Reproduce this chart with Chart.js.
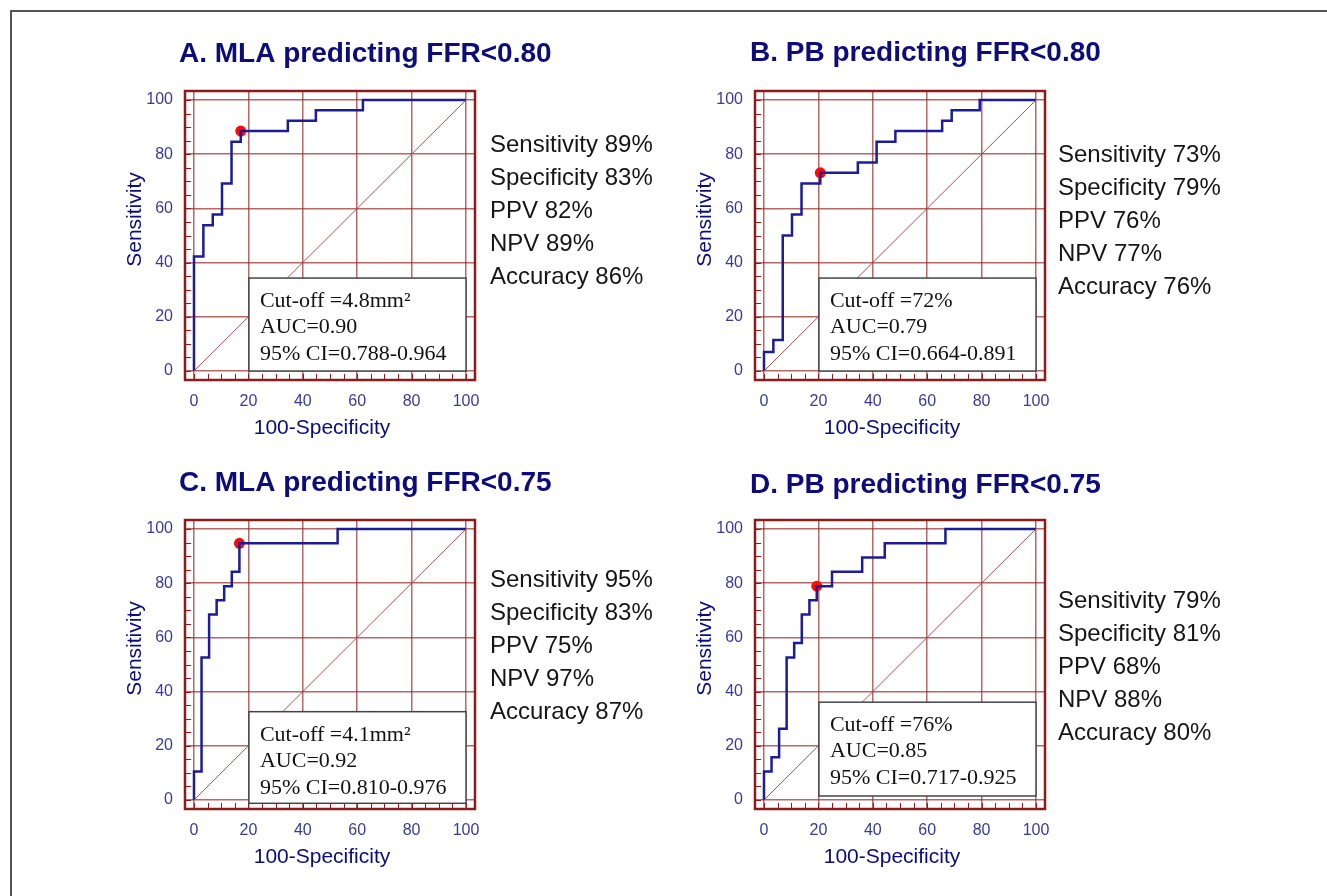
<!DOCTYPE html>
<html>
<head>
<meta charset="utf-8">
<script src="https://cdn.jsdelivr.net/npm/chart.js@4.4.0/dist/chart.umd.min.js"></script>
<style>
    body { margin: 0; background: #fff; width: 1327px; height: 896px; overflow: hidden; position: relative; }
    #outer { position: absolute; left: 10px; top: 10px; width: 1330px; height: 900px; border-left: 2px solid #555; border-top: 2px solid #555; }
    canvas { position: absolute; }
</style>
</head>
<body>
<div id="outer"></div>
<canvas id="chartA" width="700" height="440" style="left:0px;top:0px"></canvas>
<canvas id="chartB" width="700" height="440" style="left:570px;top:0px"></canvas>
<canvas id="chartC" width="700" height="440" style="left:0px;top:429px"></canvas>
<canvas id="chartD" width="700" height="440" style="left:570px;top:429px"></canvas>
<script>
// axis ticks
const tickValues = [0, 20, 40, 60, 80, 100];
const xTitle = '100-Specificity';
const yTitle = 'Sensitivity';

// panel titles
const titleA = 'A. MLA predicting FFR<0.80';
const titleB = 'B. PB predicting FFR<0.80';
const titleC = 'C. MLA predicting FFR<0.75';
const titleD = 'D. PB predicting FFR<0.75';

// ROC steps: at each 100-specificity value the curve rises to the sensitivity value
const rocA_fpr = [0, 3.45, 6.9, 10.3, 13.8, 17.2, 34.5, 44.8, 62.1];
const rocA_tpr = [42.3, 53.8, 57.7, 69.2, 84.6, 88.5, 92.3, 96.2, 100];
const rocB_fpr = [0, 3.45, 6.9, 10.3, 13.8, 20.7, 34.5, 41.4, 48.3, 65.5, 69.0, 79.3];
const rocB_tpr = [7.0, 11.5, 50.0, 57.7, 69.2, 73.1, 76.9, 84.6, 88.5, 92.3, 96.2, 100];
const rocC_fpr = [0, 2.78, 5.56, 8.33, 11.1, 13.9, 16.7, 52.8];
const rocC_tpr = [10.5, 52.6, 68.4, 73.7, 78.9, 84.2, 94.7, 100];
const rocD_fpr = [0, 2.78, 5.56, 8.33, 11.1, 13.9, 16.7, 19.4, 25.0, 36.1, 44.4, 66.7];
const rocD_tpr = [10.5, 15.8, 26.3, 52.6, 57.9, 68.4, 73.7, 78.9, 84.2, 89.5, 94.7, 100];

// optimal cut-off points [100-specificity, sensitivity]
const cutA = [17.2, 88.5];
const cutB = [20.7, 73.1];
const cutC = [16.7, 94.7];
const cutD = [19.4, 78.9];

// diagnostic performance
const statsA = ['Sensitivity 89%', 'Specificity 83%', 'PPV 82%', 'NPV 89%', 'Accuracy 86%'];
const statsB = ['Sensitivity 73%', 'Specificity 79%', 'PPV 76%', 'NPV 77%', 'Accuracy 76%'];
const statsC = ['Sensitivity 95%', 'Specificity 83%', 'PPV 75%', 'NPV 97%', 'Accuracy 87%'];
const statsD = ['Sensitivity 79%', 'Specificity 81%', 'PPV 68%', 'NPV 88%', 'Accuracy 80%'];

// boxed text
const boxA = ['Cut-off =4.8mm\u00B2', 'AUC=0.90', '95% CI=0.788-0.964'];
const boxB = ['Cut-off =72%', 'AUC=0.79', '95% CI=0.664-0.891'];
const boxC = ['Cut-off =4.1mm\u00B2', 'AUC=0.92', '95% CI=0.810-0.976'];
const boxD = ['Cut-off =76%', 'AUC=0.85', '95% CI=0.717-0.925'];

const navy = '#0c0c7a';
const tickBlue = '#3a3a96';
const frameRed = '#8e1b1b';

function staircase(fpr, tpr) {
    var pts = [{x: 0, y: 0}];
    for (var i = 0; i < fpr.length; i++) {
        var last = pts[pts.length - 1];
        pts.push({x: fpr[i], y: last.y});
        pts.push({x: fpr[i], y: tpr[i]});
    }
    pts.push({x: 100, y: 100});
    return pts;
}

// draws frame, minor ticks, titles, stats and the result box
const panelPlugin = {
    id: 'panelText',
    beforeDatasetsDraw(chart) {
        const ctx = chart.ctx, a = chart.chartArea;
        const xs = chart.scales.x, ys = chart.scales.y;
        ctx.save();
        ctx.strokeStyle = frameRed;
        ctx.lineWidth = 1;
        for (var v = 0; v <= 100; v += 5) {
            var py = Math.round(ys.getPixelForValue(v)) + 0.5;
            ctx.beginPath(); ctx.moveTo(a.left, py); ctx.lineTo(a.left + 6, py); ctx.stroke();
            var px = Math.round(xs.getPixelForValue(v)) + 0.5;
            ctx.beginPath(); ctx.moveTo(px, a.bottom); ctx.lineTo(px, a.bottom - 6); ctx.stroke();
        }
        ctx.lineWidth = 2.5;
        ctx.strokeRect(a.left, a.top, a.right - a.left, a.bottom - a.top);
        ctx.restore();
    },
    afterDatasetsDraw(chart, args, o) {
        const ctx = chart.ctx, a = chart.chartArea;
        const xs = chart.scales.x, ys = chart.scales.y;
        ctx.save();
        // result box
        var bl = xs.getPixelForValue(o.box[0]), br = xs.getPixelForValue(o.box[1]);
        var bb = ys.getPixelForValue(o.box[2]), bt = ys.getPixelForValue(o.box[3]);
        ctx.fillStyle = '#fff';
        ctx.fillRect(bl, bt, br - bl, bb - bt);
        ctx.strokeStyle = '#444';
        ctx.lineWidth = 1.5;
        ctx.strokeRect(bl, bt, br - bl, bb - bt);
        ctx.fillStyle = '#111';
        ctx.font = '22px "Liberation Serif", "Times New Roman", serif';
        ctx.textBaseline = 'alphabetic';
        ctx.textAlign = 'left';
        var offs = [29, 55, 82];
        o.boxText.forEach(function (t, i) { ctx.fillText(t, bl + 11, bt + offs[i]); });

        // title
        ctx.fillStyle = navy;
        ctx.font = 'bold 28px "Liberation Sans", Arial, sans-serif';
        ctx.textBaseline = 'middle';
        ctx.fillText(o.title, o.titleX, o.titleY);

        // stats
        ctx.fillStyle = '#151515';
        ctx.font = '24px "Liberation Sans", Arial, sans-serif';
        o.stats.forEach(function (t, i) { ctx.fillText(t, o.statsX, o.statsY + i * 33); });

        // axis titles
        ctx.fillStyle = navy;
        ctx.font = '21px "Liberation Sans", Arial, sans-serif';
        ctx.textAlign = 'center';
        ctx.fillText(xTitle, (a.left + a.right) / 2 - 8, a.bottom + 48);
        ctx.translate(a.left - 50, (a.top + a.bottom) / 2 - 16);
        ctx.rotate(-Math.PI / 2);
        ctx.fillText(yTitle, 0, 0);
        ctx.restore();
    }
};

function RocPanel(id, fpr, tpr, cut, opts) {
    new Chart(document.getElementById(id), {
        type: 'scatter',
        data: {
            datasets: [
                {
                    type: 'line',
                    data: [{x: 0, y: 0}, {x: 100, y: 100}],
                    borderColor: '#a85050',
                    borderWidth: 1,
                    pointRadius: 0
                },
                {
                    type: 'line',
                    data: staircase(fpr, tpr),
                    borderColor: '#1c1c96',
                    borderWidth: 2.5,
                    pointRadius: 0,
                    tension: 0
                },
                {
                    data: [{x: cut[0], y: cut[1]}],
                    backgroundColor: '#ff0a0a',
                    borderWidth: 0,
                    pointRadius: 5.5
                }
            ]
        },
        options: {
            responsive: false,
            animation: false,
            devicePixelRatio: 1,
            layout: { padding: { left: 100, top: 91, right: 225, bottom: 0 } },
            plugins: {
                legend: { display: false },
                tooltip: { enabled: false },
                panelText: opts
            },
            scales: {
                x: {
                    type: 'linear',
                    min: -3.3,
                    max: 103.3,
                    afterBuildTicks: function (s) { s.ticks = tickValues.map(function (v) { return {value: v}; }); },
                    afterFit: function (s) { s.height = 60; },
                    grid: { color: 'rgba(150, 40, 40, 0.7)', lineWidth: 1.5, drawTicks: false },
                    border: { display: false },
                    ticks: { color: tickBlue, padding: 12, font: { size: 16, family: '"Liberation Sans", Arial' } }
                },
                y: {
                    type: 'linear',
                    min: -3.3,
                    max: 103.3,
                    afterBuildTicks: function (s) { s.ticks = tickValues.map(function (v) { return {value: v}; }); },
                    afterFit: function (s) { s.width = 85; },
                    grid: { color: 'rgba(150, 40, 40, 0.7)', lineWidth: 1.5, drawTicks: false },
                    border: { display: false },
                    ticks: { color: tickBlue, padding: 12, font: { size: 16, family: '"Liberation Sans", Arial' } }
                }
            }
        },
        plugins: [panelPlugin]
    });
}

RocPanel('chartA', rocA_fpr, rocA_tpr, cutA, {
    title: titleA, titleX: 179, titleY: 54, stats: statsA, statsX: 490, statsY: 145,
    boxText: boxA, box: [20.2, 100, 0, 34.3]
});
RocPanel('chartB', rocB_fpr, rocB_tpr, cutB, {
    title: titleB, titleX: 180, titleY: 53, stats: statsB, statsX: 488, statsY: 155,
    boxText: boxB, box: [20.2, 100, 0, 34.3]
});
RocPanel('chartC', rocC_fpr, rocC_tpr, cutC, {
    title: titleC, titleX: 179, titleY: 54, stats: statsC, statsX: 490, statsY: 151,
    boxText: boxC, box: [20.2, 100, -1.2, 32.6]
});
RocPanel('chartD', rocD_fpr, rocD_tpr, cutD, {
    title: titleD, titleX: 180, titleY: 56, stats: statsD, statsX: 488, statsY: 172,
    boxText: boxD, box: [20.2, 100, 1.5, 36.1]
});
</script>
</body>
</html>
